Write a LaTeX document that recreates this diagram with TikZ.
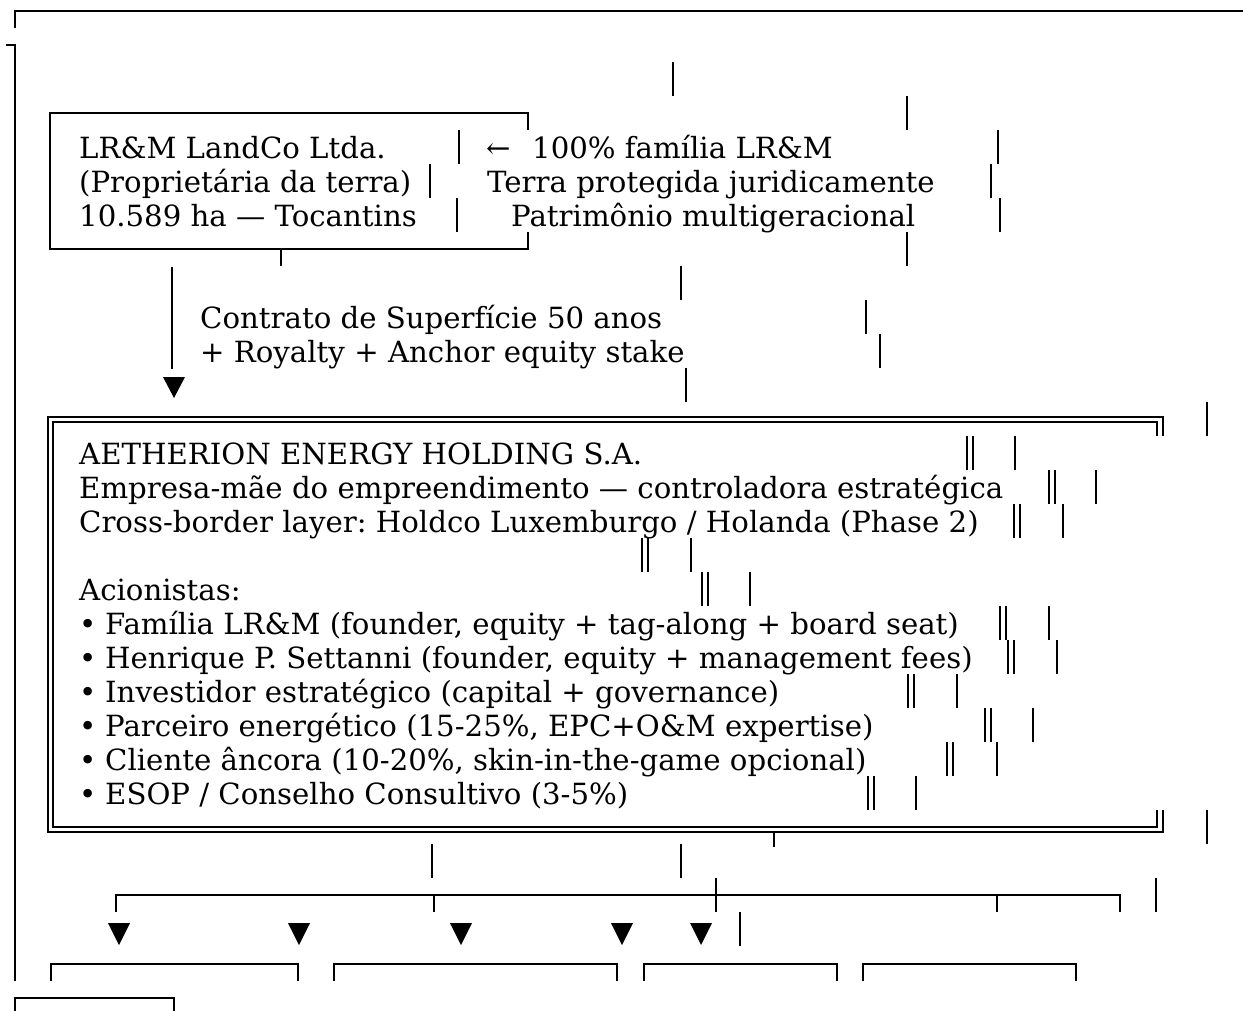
\documentclass[tikz,border=0pt]{standalone}
\usepackage{fontspec}
\setmainfont{DejaVu Serif}
\frenchspacing
\newcommand\vbar[2]{\draw[bar] (#1,{-6+34*#2}) -- (#1,{28+34*#2});}
\newcommand\dvbar[2]{\draw[dv] ({#1-2.6},{-6+34*#2}) -- ({#1-2.6},{28+34*#2}); \draw[dv] ({#1+2.6},{-6+34*#2}) -- ({#1+2.6},{28+34*#2});}
\newcommand\tri[1]{\fill ({#1-11},923) -- ({#1+11},923) -- (#1,945) -- cycle;}
\begin{document}
\begin{tikzpicture}[x=1pt,y=-1pt,
  bar/.style={line width=2.4pt},
  dl/.style={line width=1.6pt},
  dv/.style={line width=1.9pt},
  txt/.style={anchor=base west,inner sep=0pt,font=\fontsize{29.2}{34}\selectfont}]
\useasboundingbox (0,0) rectangle (1243,1010);
% outer frame pieces
\draw[bar] (15,28) -- (15,11) -- (1245,11);
\draw[bar] (6,45) -- (15,45) -- (15,981);
% LandCo box
\draw[bar] (528,130) -- (528,113) -- (50,113) -- (50,249) -- (528,249) -- (528,232);
\draw[bar] (281,249) -- (281,266);
\vbar{459}{4}\vbar{430}{5}\vbar{457}{6}
\vbar{673}{2}\vbar{907}{3}\vbar{998}{4}\vbar{991}{5}\vbar{1000}{6}\vbar{907}{7}\vbar{681}{8}\vbar{866}{9}\vbar{880}{10}\vbar{686}{11}
\node[txt] (l1) at (79,158) {LR\&M LandCo Ltda.};
\node[txt] (l2) at (79,192) {(Proprietária da terra)};
\node[txt] (l3) at (79,226) {10.589 ha — Tocantins};
\node[txt] (r0) at (486,158) {←};
\node[txt] (r1) at (532,158) {100\% família LR\&M};
\node[txt] (r2) at (487,192) {Terra protegida juridicamente};
\node[txt] (r3) at (511,226) {Patrimônio multigeracional};
% arrow
\coordinate (s0) at (172,267);
\coordinate (s1) at (172,369);
\draw[bar] (s0) -- (s1);
\fill (163,377) -- (185,377) -- (174,398) -- cycle;
\node[txt] (c1) at (200,328) {Contrato de Superfície 50 anos};
\node[txt] (c2) at (200,362) {+ Royalty + Anchor equity stake};
% double box
\draw[dl] (1163,436) -- (1163,417) -- (48,417) -- (48,832) -- (1163,832) -- (1163,810);
\draw[dl] (1157,436) -- (1157,422) -- (53,422) -- (53,827) -- (1157,827) -- (1157,810);
\draw[bar] (774,832) -- (774,847);
\vbar{1207}{12}\vbar{1207}{24}
\dvbar{970}{13}\vbar{1015}{13}
\dvbar{1052}{14}\vbar{1096}{14}
\dvbar{1017}{15}\vbar{1063}{15}
\dvbar{645}{16}\vbar{691}{16}
\dvbar{705}{17}\vbar{750}{17}
\dvbar{1003}{18}\vbar{1049}{18}
\dvbar{1011}{19}\vbar{1057}{19}
\dvbar{911}{20}\vbar{957}{20}
\dvbar{988}{21}\vbar{1033}{21}
\dvbar{950}{22}\vbar{997}{22}
\dvbar{871}{23}\vbar{916}{23}
\node[txt] (h1) at (79,464) {AETHERION ENERGY HOLDING S.A.};
\node[txt] (h2) at (79,498) {Empresa-mãe do empreendimento — controladora estratégica};
\node[txt] (h3) at (79,532) {Cross-border layer: Holdco Luxemburgo / Holanda (Phase 2)};
\node[txt] (h4) at (79,600) {Acionistas:};
\foreach \n/\y in {1/634,2/668,3/702,4/736,5/770,6/804}{\node[txt] (d\n) at (79,\y) {•};}
\node[txt] (b1) at (105,634) {Família LR\&M (founder, equity + tag-along + board seat)};
\node[txt] (b2) at (105,668) {Henrique P. Settanni (founder, equity + management fees)};
\node[txt] (b3) at (105,702) {Investidor estratégico (capital + governance)};
\node[txt] (b4) at (105,736) {Parceiro energético (15-25\%, EPC+O\&M expertise)};
\node[txt] (b5) at (105,770) {Cliente âncora (10-20\%, skin-in-the-game opcional)};
\node[txt] (b6) at (105,804) {ESOP / Conselho Consultivo (3-5\%)};
% lower branch
\vbar{432}{25}\vbar{681}{25}
\draw[bar] (116,912) -- (116,895) -- (1120,895) -- (1120,912);
\draw[bar] (434,895) -- (434,912);
\draw[bar] (716,878) -- (716,912);
\draw[bar] (997,895) -- (997,912);
\vbar{1156}{26}
\tri{119}\tri{299}\tri{461}\tri{622}\tri{701}
\vbar{740}{27}
\draw[bar] (51,981) -- (51,964) -- (298,964) -- (298,981);
\draw[bar] (334,981) -- (334,964) -- (617,964) -- (617,981);
\draw[bar] (644,981) -- (644,964) -- (837,964) -- (837,981);
\draw[bar] (863,981) -- (863,964) -- (1076,964) -- (1076,981);
\draw[bar] (15,1012) -- (15,998) -- (174,998) -- (174,1012);
\end{tikzpicture}
\end{document}
